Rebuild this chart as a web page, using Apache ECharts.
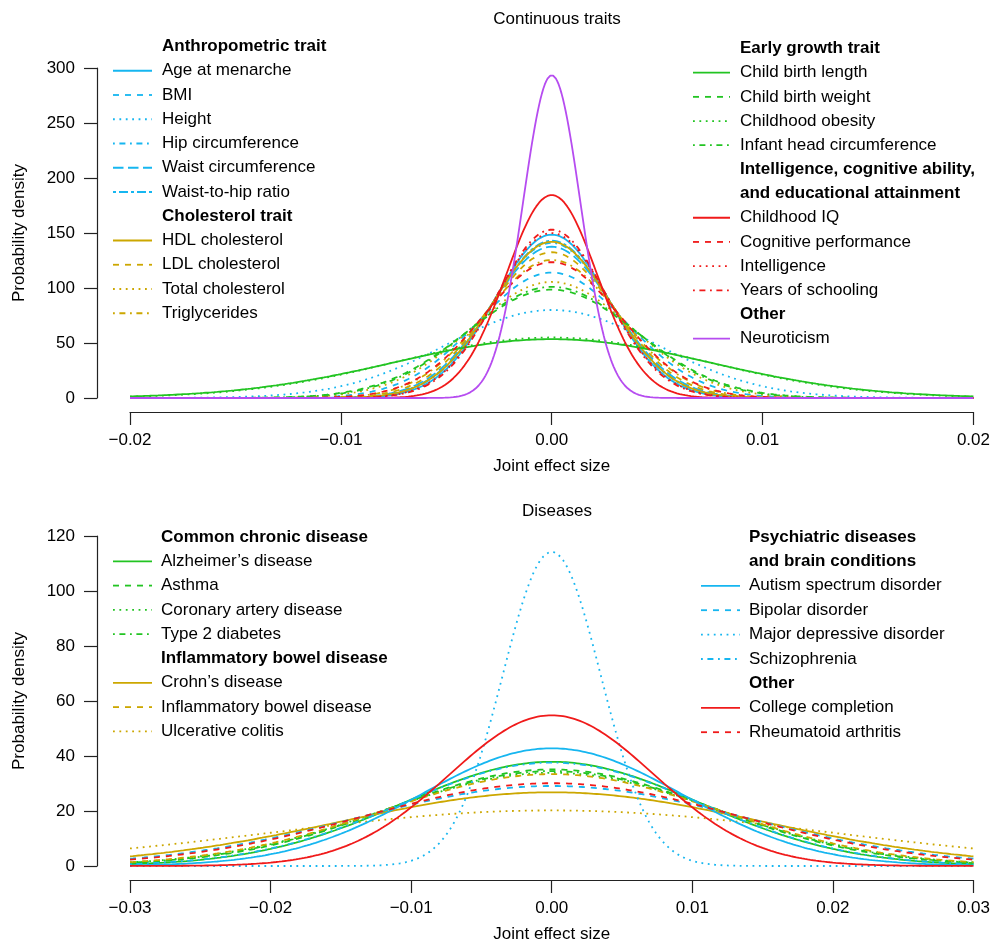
<!DOCTYPE html>
<html><head><meta charset="utf-8">
<script src="https://cdn.jsdelivr.net/npm/echarts@6/dist/echarts.min.js"></script>
<style>html,body{margin:0;padding:0;background:#fff}#c{width:993px;height:944px}</style>
</head><body><div id="c"></div>
<script>
// ---------- DATA (peak probability density of each joint-effect distribution) ----------
const topTitle = "Continuous traits";
const bottomTitle = "Diseases";

const anthropometricNames = ["Age at menarche", "BMI", "Height", "Hip circumference", "Waist circumference", "Waist-to-hip ratio"];
const anthropometricPeaks = [148.5, 114, 80, 141, 137.5, 143];

const cholesterolNames = ["HDL cholesterol", "LDL cholesterol", "Total cholesterol", "Triglycerides"];
const cholesterolPeaks = [142, 132.5, 105.5, 125.5];

const earlyGrowthNames = ["Child birth length", "Child birth weight", "Childhood obesity", "Infant head circumference"];
const earlyGrowthPeaks = [53.5, 98.5, 55, 101];

const intelligenceNames = ["Childhood IQ", "Cognitive performance", "Intelligence", "Years of schooling"];
const intelligencePeaks = [184.5, 123.5, 150, 153];

const otherTraitNames = ["Neuroticism"];
const otherTraitPeaks = [293.5];

const chronicNames = ["Alzheimer\u2019s disease", "Asthma", "Coronary artery disease", "Type 2 diabetes"];
const chronicPeaks = [37.9, 35.1, 33.9, 34.5];

const ibdNames = ["Crohn\u2019s disease", "Inflammatory bowel disease", "Ulcerative colitis"];
const ibdPeaks = [26.8, 33.4, 20.2];

const psychNames = ["Autism spectrum disorder", "Bipolar disorder", "Major depressive disorder", "Schizophrenia"];
const psychPeaks = [42.8, 29.1, 114.2, 37.6];

const otherDiseaseNames = ["College completion", "Rheumatoid arthritis"];
const otherDiseasePeaks = [54.8, 30.1];

const topXTicks = [-0.02, -0.01, 0.00, 0.01, 0.02];
const topYTicks = [0, 50, 100, 150, 200, 250, 300];
const bottomXTicks = [-0.03, -0.02, -0.01, 0.00, 0.01, 0.02, 0.03];
const bottomYTicks = [0, 20, 40, 60, 80, 100, 120];

// ---------- STYLES ----------
const FONT = "Liberation Sans, Arial, Helvetica, sans-serif";
const FS = 17;
const LW = 1.8;
const C = {cyan: "#16B6F0", gold: "#CCA700", green: "#22C422", red: "#F01A1A", purple: "#B64CF0"};
const DASH = {
  solid: "solid",
  dashed: [6, 6],
  dotted: [1.8, 4.6],
  dotdash: [1.8, 4.6, 6, 4.6],
  longdash: [10.5, 4.5],
  twodash: [3, 3, 9, 3]
};
const typesFull = ["solid", "dashed", "dotted", "dotdash", "longdash", "twodash"];

const topGroups = [
  {head: ["Anthropometric trait"], names: anthropometricNames, peaks: anthropometricPeaks, color: C.cyan},
  {head: ["Cholesterol trait"], names: cholesterolNames, peaks: cholesterolPeaks, color: C.gold},
  {head: ["Early growth trait"], names: earlyGrowthNames, peaks: earlyGrowthPeaks, color: C.green},
  {head: ["Intelligence, cognitive ability,", "and educational attainment"], names: intelligenceNames, peaks: intelligencePeaks, color: C.red},
  {head: ["Other"], names: otherTraitNames, peaks: otherTraitPeaks, color: C.purple}
];
const bottomGroups = [
  {head: ["Common chronic disease"], names: chronicNames, peaks: chronicPeaks, color: C.green},
  {head: ["Inflammatory bowel disease"], names: ibdNames, peaks: ibdPeaks, color: C.gold},
  {head: ["Psychiatric diseases", "and brain conditions"], names: psychNames, peaks: psychPeaks, color: C.cyan},
  {head: ["Other"], names: otherDiseaseNames, peaks: otherDiseasePeaks, color: C.red}
];

// normal density with mean 0 whose peak equals the read value
function densityCurve(peak, lo, hi, n) {
  const sd = 1 / (peak * Math.sqrt(2 * Math.PI));
  const pts = [];
  for (let i = 0; i <= n; i++) {
    const x = lo + (hi - lo) * i / n;
    pts.push([x, peak * Math.exp(-x * x / (2 * sd * sd))]);
  }
  return pts;
}

const series = [];
function addSeries(groups, gridIdx, lo, hi) {
  groups.forEach(g => {
    g.names.forEach((nm, i) => {
      series.push({
        type: "line", name: nm, xAxisIndex: gridIdx, yAxisIndex: gridIdx,
        data: densityCurve(g.peaks[i], lo, hi, 600),
        symbol: "none", smooth: false, silent: true, animation: false,
        lineStyle: {color: g.color, width: LW, type: DASH[typesFull[i]]},
        z: 2
      });
    });
  });
}
addSeries(topGroups, 0, topXTicks[0], topXTicks[topXTicks.length - 1]);
addSeries(bottomGroups, 1, bottomXTicks[0], bottomXTicks[bottomXTicks.length - 1]);

// ---------- LEGENDS (drawn as graphic lines + text) ----------
const graphics = [];
function legendBlock(groups, lineX0, lineX1, textX, y0, pitch) {
  let row = 0;
  groups.forEach(g => {
    g.head.forEach(h => {
      graphics.push({type: "text", x: textX, y: y0 + pitch * row, silent: true,
        style: {text: h, font: "bold " + FS + "px " + FONT, fill: "#000", textVerticalAlign: "middle", textAlign: "left"}});
      row++;
    });
    g.names.forEach((nm, i) => {
      const y = y0 + pitch * row;
      const t = DASH[typesFull[i]];
      graphics.push({type: "line", silent: true,
        shape: {x1: lineX0, y1: y, x2: lineX1, y2: y},
        style: {stroke: g.color, lineWidth: LW, lineDash: t === "solid" ? null : t}});
      graphics.push({type: "text", x: textX, y: y, silent: true,
        style: {text: nm, font: FS + "px " + FONT, fill: "#000", textVerticalAlign: "middle", textAlign: "left"}});
      row++;
    });
  });
}
legendBlock(topGroups.slice(0, 2), 113, 152, 162, 46.5, 24.25);
legendBlock(topGroups.slice(2), 693, 730, 740, 48.5, 24.18);
legendBlock(bottomGroups.slice(0, 2), 113, 152, 161, 537, 24.3);
legendBlock(bottomGroups.slice(2), 701, 740, 749, 537, 24.4);

// ---------- AXES ----------
function fmtX(v) {
  const a = Math.abs(v) < 1e-12 ? 0 : v;
  return (a < 0 ? "\u2212" : "") + Math.abs(a).toFixed(2);
}
const axisCommon = {
  axisLine: {show: true, onZero: false, lineStyle: {color: "#222", width: 1.2}},
  axisTick: {show: true, inside: false, length: 13, lineStyle: {color: "#222", width: 1.2}},
  splitLine: {show: false},
  nameTextStyle: {fontFamily: FONT, fontSize: FS, color: "#000"}
};
function xAxisDef(gridIdx, ticks) {
  return Object.assign({}, axisCommon, {
    type: "value", gridIndex: gridIdx, min: ticks[0], max: ticks[ticks.length - 1],
    interval: ticks[1] - ticks[0], position: "bottom", offset: 14,
    name: "Joint effect size", nameLocation: "middle", nameGap: 46,
    axisLabel: {fontFamily: FONT, fontSize: FS, color: "#000", margin: 20, formatter: fmtX}
  });
}
function yAxisDef(gridIdx, ticks) {
  return Object.assign({}, axisCommon, {
    type: "value", gridIndex: gridIdx, min: ticks[0], max: ticks[ticks.length - 1],
    interval: ticks[1] - ticks[0], position: "left", offset: 33,
    name: "Probability density", nameLocation: "middle", nameGap: 69, nameRotate: 90,
    axisLabel: {fontFamily: FONT, fontSize: FS, color: "#000", margin: 22}
  });
}

const option = {
  backgroundColor: "#fff",
  animation: false,
  title: [
    {text: topTitle, left: 552, top: 6, textAlign: "center",
     textStyle: {fontFamily: FONT, fontSize: FS, fontWeight: "normal", color: "#000"}},
    {text: bottomTitle, left: 552, top: 498, textAlign: "center",
     textStyle: {fontFamily: FONT, fontSize: FS, fontWeight: "normal", color: "#000"}}
  ],
  grid: [
    {left: 130, right: 18, top: 68, height: 330, containLabel: false},
    {left: 130, right: 18, top: 536, height: 331, containLabel: false}
  ],
  xAxis: [xAxisDef(0, topXTicks), xAxisDef(1, bottomXTicks)],
  yAxis: [yAxisDef(0, topYTicks), yAxisDef(1, bottomYTicks)],
  series: series,
  graphic: graphics
};

const chart = echarts.init(document.getElementById("c"), null, {renderer: "canvas"});
chart.setOption(option);
</script>
</body></html>
